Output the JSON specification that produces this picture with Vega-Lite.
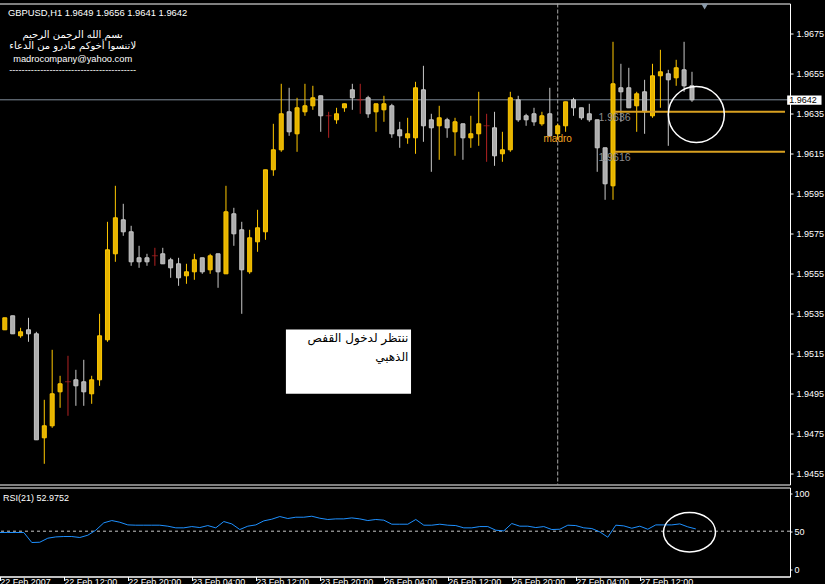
{
  "$schema": "https://vega.github.io/schema/vega-lite/v6.json",
  "background": "#000000",
  "padding": {"left": -2, "top": 2.5, "right": 0, "bottom": 0},
  "bounds": "flush",
  "spacing": 3,
  "config": {
    "view": {"stroke": "#FFFFFF", "strokeWidth": 1},
    "axis": {"grid": false, "title": null, "labelFont": "Liberation Sans", "labelFontSize": 9, "labelColor": "#FFFFFF", "tickColor": "#FFFFFF", "domainColor": "#FFFFFF", "labelFlush": false, "labelOverlap": false},
    "text": {"font": "Liberation Sans", "fontSize": 9}
  },
  "datasets": {
    "candles": [
      {"i":0,"o":1.9527,"h":1.9533,"l":1.9527,"c":1.9533,"dir":"up"},
      {"i":1,"o":1.9534,"h":1.9534,"l":1.9525,"c":1.9525,"dir":"down"},
      {"i":2,"o":1.9524,"h":1.9528,"l":1.9523,"c":1.9526,"dir":"up"},
      {"i":3,"o":1.9527,"h":1.9533,"l":1.9521,"c":1.9525,"dir":"down"},
      {"i":4,"o":1.9525,"h":1.9526,"l":1.9472,"c":1.9472,"dir":"down"},
      {"i":5,"o":1.9473,"h":1.9492,"l":1.9460,"c":1.9479,"dir":"up"},
      {"i":6,"o":1.9479,"h":1.9517,"l":1.9478,"c":1.9495,"dir":"up"},
      {"i":7,"o":1.9496,"h":1.9504,"l":1.9488,"c":1.9500,"dir":"up"},
      {"i":8,"o":1.9501,"h":1.9514,"l":1.9484,"c":1.9501,"dir":"doji"},
      {"i":9,"o":1.9502,"h":1.9507,"l":1.9489,"c":1.9499,"dir":"down"},
      {"i":10,"o":1.9501,"h":1.9512,"l":1.9489,"c":1.9496,"dir":"down"},
      {"i":11,"o":1.9495,"h":1.9504,"l":1.9490,"c":1.9502,"dir":"up"},
      {"i":12,"o":1.9502,"h":1.9535,"l":1.9499,"c":1.9524,"dir":"up"},
      {"i":13,"o":1.9522,"h":1.9581,"l":1.9521,"c":1.9567,"dir":"up"},
      {"i":14,"o":1.9565,"h":1.9599,"l":1.9561,"c":1.9583,"dir":"up"},
      {"i":15,"o":1.9582,"h":1.9590,"l":1.9574,"c":1.9576,"dir":"down"},
      {"i":16,"o":1.9576,"h":1.9579,"l":1.9559,"c":1.9561,"dir":"down"},
      {"i":17,"o":1.9563,"h":1.9569,"l":1.9558,"c":1.9561,"dir":"down"},
      {"i":18,"o":1.9563,"h":1.9565,"l":1.9559,"c":1.9561,"dir":"down"},
      {"i":19,"o":1.9564,"h":1.9568,"l":1.9559,"c":1.9564,"dir":"doji"},
      {"i":20,"o":1.9565,"h":1.9568,"l":1.9560,"c":1.9560,"dir":"down"},
      {"i":21,"o":1.9562,"h":1.9563,"l":1.9553,"c":1.9558,"dir":"down"},
      {"i":22,"o":1.9560,"h":1.9563,"l":1.9549,"c":1.9553,"dir":"down"},
      {"i":23,"o":1.9554,"h":1.9560,"l":1.9550,"c":1.9556,"dir":"up"},
      {"i":24,"o":1.9556,"h":1.9565,"l":1.9552,"c":1.9562,"dir":"up"},
      {"i":25,"o":1.9563,"h":1.9563,"l":1.9555,"c":1.9556,"dir":"down"},
      {"i":26,"o":1.9557,"h":1.9565,"l":1.9555,"c":1.9564,"dir":"up"},
      {"i":27,"o":1.9565,"h":1.9565,"l":1.9548,"c":1.9556,"dir":"down"},
      {"i":28,"o":1.9555,"h":1.9599,"l":1.9555,"c":1.9586,"dir":"up"},
      {"i":29,"o":1.9585,"h":1.9588,"l":1.9569,"c":1.9575,"dir":"down"},
      {"i":30,"o":1.9577,"h":1.9581,"l":1.9535,"c":1.9557,"dir":"down"},
      {"i":31,"o":1.9556,"h":1.9577,"l":1.9555,"c":1.9573,"dir":"up"},
      {"i":32,"o":1.9571,"h":1.9587,"l":1.9566,"c":1.9578,"dir":"up"},
      {"i":33,"o":1.9576,"h":1.9607,"l":1.9572,"c":1.9607,"dir":"up"},
      {"i":34,"o":1.9607,"h":1.9630,"l":1.9604,"c":1.9617,"dir":"up"},
      {"i":35,"o":1.9617,"h":1.9650,"l":1.9616,"c":1.9635,"dir":"up"},
      {"i":36,"o":1.9636,"h":1.9648,"l":1.9624,"c":1.9626,"dir":"down"},
      {"i":37,"o":1.9625,"h":1.9643,"l":1.9616,"c":1.9638,"dir":"up"},
      {"i":38,"o":1.9636,"h":1.9650,"l":1.9634,"c":1.9639,"dir":"up"},
      {"i":39,"o":1.9639,"h":1.9649,"l":1.9637,"c":1.9643,"dir":"up"},
      {"i":40,"o":1.9644,"h":1.9644,"l":1.9626,"c":1.9634,"dir":"down"},
      {"i":41,"o":1.9634,"h":1.9636,"l":1.9623,"c":1.9634,"dir":"doji"},
      {"i":42,"o":1.9632,"h":1.9638,"l":1.9630,"c":1.9635,"dir":"up"},
      {"i":43,"o":1.9638,"h":1.9640,"l":1.9636,"c":1.9640,"dir":"up"},
      {"i":44,"o":1.9647,"h":1.9650,"l":1.9637,"c":1.9643,"dir":"down"},
      {"i":45,"o":1.9642,"h":1.9650,"l":1.9635,"c":1.9642,"dir":"doji"},
      {"i":46,"o":1.9643,"h":1.9644,"l":1.9633,"c":1.9635,"dir":"down"},
      {"i":47,"o":1.9636,"h":1.9640,"l":1.9626,"c":1.9640,"dir":"up"},
      {"i":48,"o":1.9637,"h":1.9644,"l":1.9631,"c":1.9640,"dir":"up"},
      {"i":49,"o":1.9639,"h":1.9640,"l":1.9623,"c":1.9625,"dir":"down"},
      {"i":50,"o":1.9627,"h":1.9631,"l":1.9618,"c":1.9624,"dir":"down"},
      {"i":51,"o":1.9623,"h":1.9633,"l":1.9620,"c":1.9625,"dir":"up"},
      {"i":52,"o":1.9623,"h":1.9651,"l":1.9615,"c":1.9648,"dir":"up"},
      {"i":53,"o":1.9647,"h":1.9659,"l":1.9621,"c":1.9629,"dir":"down"},
      {"i":54,"o":1.9632,"h":1.9635,"l":1.9606,"c":1.9628,"dir":"down"},
      {"i":55,"o":1.9629,"h":1.9639,"l":1.9612,"c":1.9633,"dir":"up"},
      {"i":56,"o":1.9632,"h":1.9633,"l":1.9623,"c":1.9628,"dir":"down"},
      {"i":57,"o":1.9626,"h":1.9633,"l":1.9614,"c":1.9631,"dir":"up"},
      {"i":58,"o":1.9630,"h":1.9630,"l":1.9612,"c":1.9623,"dir":"down"},
      {"i":59,"o":1.9623,"h":1.9634,"l":1.9618,"c":1.9625,"dir":"up"},
      {"i":60,"o":1.9625,"h":1.9646,"l":1.9619,"c":1.9630,"dir":"up"},
      {"i":61,"o":1.9629,"h":1.9635,"l":1.9611,"c":1.9629,"dir":"doji"},
      {"i":62,"o":1.9628,"h":1.9636,"l":1.9609,"c":1.9614,"dir":"down"},
      {"i":63,"o":1.9615,"h":1.9626,"l":1.9611,"c":1.9617,"dir":"up"},
      {"i":64,"o":1.9617,"h":1.9646,"l":1.9616,"c":1.9643,"dir":"up"},
      {"i":65,"o":1.9642,"h":1.9644,"l":1.9631,"c":1.9632,"dir":"down"},
      {"i":66,"o":1.9634,"h":1.9635,"l":1.9629,"c":1.9632,"dir":"down"},
      {"i":67,"o":1.9635,"h":1.9638,"l":1.9629,"c":1.9631,"dir":"down"},
      {"i":68,"o":1.9630,"h":1.9636,"l":1.9629,"c":1.9634,"dir":"up"},
      {"i":69,"o":1.9635,"h":1.9648,"l":1.9624,"c":1.9624,"dir":"down"},
      {"i":70,"o":1.9625,"h":1.9630,"l":1.9622,"c":1.9629,"dir":"up"},
      {"i":71,"o":1.9629,"h":1.9641,"l":1.9626,"c":1.9641,"dir":"up"},
      {"i":72,"o":1.9642,"h":1.9643,"l":1.9634,"c":1.9638,"dir":"down"},
      {"i":73,"o":1.9638,"h":1.9638,"l":1.9632,"c":1.9633,"dir":"down"},
      {"i":74,"o":1.9635,"h":1.9640,"l":1.9631,"c":1.9632,"dir":"down"},
      {"i":75,"o":1.9632,"h":1.9632,"l":1.9606,"c":1.9618,"dir":"down"},
      {"i":76,"o":1.9618,"h":1.9618,"l":1.9592,"c":1.9600,"dir":"down"},
      {"i":77,"o":1.9599,"h":1.9671,"l":1.9592,"c":1.9650,"dir":"up"},
      {"i":78,"o":1.9648,"h":1.9660,"l":1.9631,"c":1.9646,"dir":"down"},
      {"i":79,"o":1.9648,"h":1.9658,"l":1.9638,"c":1.9638,"dir":"down"},
      {"i":80,"o":1.9639,"h":1.9646,"l":1.9626,"c":1.9645,"dir":"up"},
      {"i":81,"o":1.9646,"h":1.9652,"l":1.9625,"c":1.9636,"dir":"down"},
      {"i":82,"o":1.9634,"h":1.9660,"l":1.9633,"c":1.9654,"dir":"up"},
      {"i":83,"o":1.9654,"h":1.9667,"l":1.9638,"c":1.9656,"dir":"up"},
      {"i":84,"o":1.9655,"h":1.9657,"l":1.9619,"c":1.9652,"dir":"down"},
      {"i":85,"o":1.9653,"h":1.9662,"l":1.9649,"c":1.9658,"dir":"up"},
      {"i":86,"o":1.9657,"h":1.9671,"l":1.9646,"c":1.9649,"dir":"down"},
      {"i":87,"o":1.9649,"h":1.9656,"l":1.9641,"c":1.9642,"dir":"down"}
    ],
    "rsi": [
      {"i":0,"rsi":48.3},{"i":1,"rsi":48.3},{"i":2,"rsi":48.3},{"i":3,"rsi":48.3},{"i":4,"rsi":35.1},
      {"i":5,"rsi":35.5},{"i":6,"rsi":40.8},{"i":7,"rsi":42.5},{"i":8,"rsi":43.0},{"i":9,"rsi":43.0},
      {"i":10,"rsi":41.7},{"i":11,"rsi":44.7},{"i":12,"rsi":51.3},{"i":13,"rsi":61.0},{"i":14,"rsi":64.0},
      {"i":15,"rsi":61.8},{"i":16,"rsi":58.3},{"i":17,"rsi":57.9},{"i":18,"rsi":57.9},{"i":19,"rsi":57.9},
      {"i":20,"rsi":57.9},{"i":21,"rsi":56.6},{"i":22,"rsi":54.4},{"i":23,"rsi":54.4},{"i":24,"rsi":56.1},
      {"i":25,"rsi":54.8},{"i":26,"rsi":57.4},{"i":27,"rsi":54.4},{"i":28,"rsi":62.7},{"i":29,"rsi":59.6},
      {"i":30,"rsi":52.2},{"i":31,"rsi":56.6},{"i":32,"rsi":58.3},{"i":33,"rsi":63.6},{"i":34,"rsi":65.8},
      {"i":35,"rsi":69.3},{"i":36,"rsi":66.7},{"i":37,"rsi":68.4},{"i":38,"rsi":68.4},{"i":39,"rsi":69.7},
      {"i":40,"rsi":67.1},{"i":41,"rsi":65.4},{"i":42,"rsi":66.2},{"i":43,"rsi":66.2},{"i":44,"rsi":67.5},
      {"i":45,"rsi":66.2},{"i":46,"rsi":64.0},{"i":47,"rsi":65.4},{"i":48,"rsi":64.5},{"i":49,"rsi":59.2},
      {"i":50,"rsi":59.2},{"i":51,"rsi":59.2},{"i":52,"rsi":65.4},{"i":53,"rsi":57.9},{"i":54,"rsi":57.9},
      {"i":55,"rsi":59.2},{"i":56,"rsi":57.9},{"i":57,"rsi":57.4},{"i":58,"rsi":54.4},{"i":59,"rsi":54.4},
      {"i":60,"rsi":56.1},{"i":61,"rsi":56.1},{"i":62,"rsi":51.3},{"i":63,"rsi":50.4},{"i":64,"rsi":60.1},
      {"i":65,"rsi":56.6},{"i":66,"rsi":56.6},{"i":67,"rsi":54.8},{"i":68,"rsi":56.1},{"i":69,"rsi":52.2},
      {"i":70,"rsi":52.6},{"i":71,"rsi":57.9},{"i":72,"rsi":57.4},{"i":73,"rsi":54.4},{"i":74,"rsi":53.5},
      {"i":75,"rsi":49.1},{"i":76,"rsi":42.1},{"i":77,"rsi":57.9},{"i":78,"rsi":57.0},{"i":79,"rsi":53.9},
      {"i":80,"rsi":56.6},{"i":81,"rsi":52.6},{"i":82,"rsi":58.3},{"i":83,"rsi":58.3},{"i":84,"rsi":58.3},
      {"i":85,"rsi":59.6},{"i":86,"rsi":55.7},{"i":87,"rsi":52.98}
    ],
    "levels": [
      {"start":77.2,"price":1.9636,"label":"1.9636"},
      {"start":77.2,"price":1.9616,"label":"1.9616"}
    ]
  },
  "vconcat": [
    {
      "width": 791,
      "height": 481,
      "layer": [
        {
          "data": {"values": [{"price": 1.9642}]},
          "mark": {"type": "rule", "color": "#7F8C99", "strokeWidth": 1},
          "encoding": {
            "y": {"field": "price", "type": "quantitative",
              "scale": {"domain": [1.944965, 1.969015], "nice": false, "zero": false},
              "axis": {"orient": "right", "values": [1.9455,1.9475,1.9495,1.9515,1.9535,1.9555,1.9575,1.9595,1.9615,1.9635,1.9655,1.9675], "format": ".4f", "tickSize": 3, "labelPadding": 3, "labelAlign": "left", "labelBaseline": "middle"}}
          }
        },
        {
          "data": {"values": [{"i": 70}]},
          "mark": {"type": "rule", "color": "#A8A8A8", "strokeWidth": 1, "strokeDash": [4, 2]},
          "encoding": {
            "x": {"field": "i", "type": "quantitative", "scale": {"domain": [-0.1, 98.775], "nice": false, "zero": false}, "axis": null}
          }
        },
        {
          "data": {"name": "candles"},
          "mark": {"type": "rule", "strokeWidth": 1, "clip": true},
          "encoding": {
            "x": {"field": "i", "type": "quantitative", "axis": null},
            "y": {"field": "l", "type": "quantitative"},
            "y2": {"field": "h"},
            "stroke": {"field": "dir", "type": "nominal", "scale": {"domain": ["up", "down", "doji"], "range": ["#FFC800", "#C8C8C8", "#B22222"]}, "legend": null}
          }
        },
        {
          "data": {"name": "candles"},
          "transform": [{"filter": "datum.dir != 'doji'"}],
          "mark": {"type": "bar", "size": 4, "strokeWidth": 1, "clip": true},
          "encoding": {
            "x": {"field": "i", "type": "quantitative", "axis": null},
            "y": {"field": "o", "type": "quantitative"},
            "y2": {"field": "c"},
            "fill": {"field": "dir", "type": "nominal", "scale": {"domain": ["up", "down"], "range": ["#E6B400", "#ADADAD"]}, "legend": null},
            "stroke": {"field": "dir", "type": "nominal", "legend": null}
          }
        },
        {
          "data": {"name": "candles"},
          "transform": [{"filter": "datum.dir == 'doji'"}],
          "mark": {"type": "tick", "orient": "horizontal", "size": 6, "thickness": 1, "color": "#B22222", "clip": true},
          "encoding": {
            "x": {"field": "i", "type": "quantitative", "axis": null},
            "y": {"field": "o", "type": "quantitative"}
          }
        },
        {
          "data": {"name": "levels"},
          "mark": {"type": "rule", "color": "#D9A020", "strokeWidth": 2},
          "encoding": {
            "x": {"field": "start", "type": "quantitative", "axis": null},
            "x2": {"datum": 98.775},
            "y": {"field": "price", "type": "quantitative"}
          }
        },
        {
          "data": {"name": "levels"},
          "mark": {"type": "text", "color": "#8C8C8C", "fontSize": 10.5, "align": "center", "baseline": "middle", "dy": 6.5},
          "encoding": {
            "x": {"field": "start", "type": "quantitative", "axis": null},
            "y": {"field": "price", "type": "quantitative"},
            "text": {"field": "label"}
          }
        },
        {
          "data": {"values": [{"i": 70, "price": 1.96222, "text": "madro"}]},
          "mark": {"type": "text", "color": "#F5A623", "fontSize": 10, "align": "center", "baseline": "middle"},
          "encoding": {
            "x": {"field": "i", "type": "quantitative", "axis": null},
            "y": {"field": "price", "type": "quantitative"},
            "text": {"field": "text"}
          }
        },
        {
          "data": {"values": [{"i": 87.55, "price": 1.963465}]},
          "mark": {"type": "point", "shape": "circle", "size": 3136, "filled": false, "stroke": "#FFFFFF", "strokeWidth": 1.5, "opacity": 1},
          "encoding": {
            "x": {"field": "i", "type": "quantitative", "axis": null},
            "y": {"field": "price", "type": "quantitative"}
          }
        },
        {
          "data": {"values": [{"i": 88.6, "price": 1.968865}]},
          "mark": {"type": "point", "shape": "triangle-down", "size": 50, "filled": true, "color": "#8A9AAA", "opacity": 1},
          "encoding": {
            "x": {"field": "i", "type": "quantitative", "axis": null},
            "y": {"field": "price", "type": "quantitative"}
          }
        },
        {
          "data": {"values": [{"x1": 35.59, "x2": 51.43, "p1": 1.9495, "p2": 1.952715}]},
          "mark": {"type": "rect", "color": "#FFFFFF"},
          "encoding": {
            "x": {"field": "x1", "type": "quantitative", "axis": null},
            "x2": {"field": "x2"},
            "y": {"field": "p1", "type": "quantitative"},
            "y2": {"field": "p2"}
          }
        },
        {
          "data": {"values": [
            {"i": 51.1, "price": 1.95229, "text": "ننتظر لدخول القفص"},
            {"i": 51.1, "price": 1.95132, "text": "الذهبي"}
          ]},
          "mark": {"type": "text", "color": "#000000", "font": "DejaVu Sans", "fontSize": 12, "align": "right", "baseline": "middle"},
          "encoding": {
            "x": {"field": "i", "type": "quantitative", "axis": null},
            "y": {"field": "price", "type": "quantitative"},
            "text": {"field": "text"}
          }
        },
        {
          "data": {"values": [{"i": 0.4, "price": 1.96853, "text": "GBPUSD,H1  1.9649 1.9656 1.9641 1.9642"}]},
          "mark": {"type": "text", "color": "#FFFFFF", "fontSize": 9.4, "align": "left", "baseline": "middle"},
          "encoding": {
            "x": {"field": "i", "type": "quantitative", "axis": null},
            "y": {"field": "price", "type": "quantitative"},
            "text": {"field": "text"}
          }
        },
        {
          "data": {"values": [
            {"i": 8.59, "price": 1.96742, "text": "بسم الله الرحمن الرحيم"},
            {"i": 8.59, "price": 1.96689, "text": "لاتنسوا أخوكم مادرو من الدعاء"}
          ]},
          "mark": {"type": "text", "color": "#FFFFFF", "font": "DejaVu Sans", "fontSize": 10, "align": "center", "baseline": "middle"},
          "encoding": {
            "x": {"field": "i", "type": "quantitative", "axis": null},
            "y": {"field": "price", "type": "quantitative"},
            "text": {"field": "text"}
          }
        },
        {
          "data": {"values": [
            {"i": 8.59, "price": 1.96625, "text": "madrocompany@yahoo.com"},
            {"i": 8.59, "price": 1.96567, "text": "-----------------------------------------"}
          ]},
          "mark": {"type": "text", "color": "#FFFFFF", "fontSize": 9.3, "align": "center", "baseline": "middle"},
          "encoding": {
            "x": {"field": "i", "type": "quantitative", "axis": null},
            "y": {"field": "price", "type": "quantitative"},
            "text": {"field": "text"}
          }
        },
        {
          "data": {"values": [{"x1": 99.05, "x2": 103.4, "p1": 1.96395, "p2": 1.964415}]},
          "mark": {"type": "rect", "color": "#FFFFFF"},
          "encoding": {
            "x": {"field": "x1", "type": "quantitative", "axis": null},
            "x2": {"field": "x2"},
            "y": {"field": "p1", "type": "quantitative"},
            "y2": {"field": "p2"}
          }
        },
        {
          "data": {"values": [{"i": 99.3, "price": 1.96418, "text": "1.9642"}]},
          "mark": {"type": "text", "color": "#000000", "fontSize": 9, "align": "left", "baseline": "middle"},
          "encoding": {
            "x": {"field": "i", "type": "quantitative", "axis": null},
            "y": {"field": "price", "type": "quantitative"},
            "text": {"field": "text"}
          }
        }
      ]
    },
    {
      "width": 791,
      "height": 89,
      "layer": [
        {
          "data": {"values": [{"level": 50}]},
          "mark": {"type": "rule", "color": "#C8C8C8", "strokeWidth": 1, "strokeDash": [3, 3]},
          "encoding": {
            "y": {"field": "level", "type": "quantitative",
              "scale": {"domain": [-9.6, 107.5], "nice": false, "zero": false},
              "axis": {"orient": "right", "values": [0, 50, 100], "tickSize": 2, "labelPadding": 2, "labelAlign": "left", "labelBaseline": "middle"}}
          }
        },
        {
          "data": {"name": "rsi"},
          "mark": {"type": "line", "color": "#1E90FF", "strokeWidth": 1, "clip": true},
          "encoding": {
            "x": {"field": "i", "type": "quantitative",
              "scale": {"domain": [-0.1, 98.775], "nice": false, "zero": false},
              "axis": {"orient": "bottom", "values": [0, 8, 16, 24, 32, 40, 48, 56, 64, 72, 80], "tickSize": 4, "labelPadding": -3, "labelAlign": "left", "labelBaseline": "top", "labelDx": 1,
                "labelExpr": "['22 Feb 2007','22 Feb 12:00','22 Feb 20:00','23 Feb 04:00','23 Feb 12:00','23 Feb 20:00','26 Feb 04:00','26 Feb 12:00','26 Feb 20:00','27 Feb 04:00','27 Feb 12:00'][round(datum.value / 8)]"}},
            "y": {"field": "rsi", "type": "quantitative"}
          }
        },
        {
          "data": {"values": [{"i": 86.21, "rsi": 48.7}]},
          "mark": {"type": "point", "shape": "M-1,0A1,0.758,0,1,1,1,0A1,0.758,0,1,1,-1,0Z", "size": 2704, "filled": false, "stroke": "#FFFFFF", "strokeWidth": 1.5, "opacity": 1},
          "encoding": {
            "x": {"field": "i", "type": "quantitative"},
            "y": {"field": "rsi", "type": "quantitative"}
          }
        },
        {
          "data": {"values": [{"i": 0.4, "rsi": 94.3, "text": "RSI(21) 52.9752"}]},
          "mark": {"type": "text", "color": "#FFFFFF", "fontSize": 9, "align": "left", "baseline": "middle"},
          "encoding": {
            "x": {"field": "i", "type": "quantitative"},
            "y": {"field": "rsi", "type": "quantitative"},
            "text": {"field": "text"}
          }
        }
      ]
    }
  ]
}
